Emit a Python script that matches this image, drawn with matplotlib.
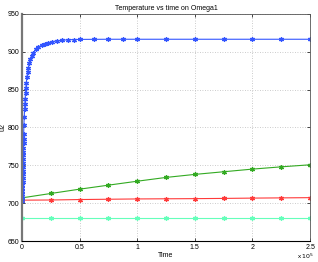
import numpy as np
import matplotlib
matplotlib.use('Agg')
import matplotlib.pyplot as plt

## Data (time in units of 1e5):
t_blue = [0.0, 0.0008, 0.0016, 0.0024, 0.0032, 0.004, 0.0048, 0.0056, 0.0064, 0.0072,
          0.008, 0.0088, 0.0096, 0.0104, 0.0112, 0.012, 0.0128, 0.0136, 0.0144, 0.015,
          0.017, 0.020, 0.023, 0.025, 0.028, 0.031, 0.034, 0.038, 0.043, 0.049,
          0.056, 0.064, 0.074, 0.086, 0.10, 0.12, 0.14, 0.17, 0.20, 0.23,
          0.26, 0.30, 0.35, 0.40, 0.45, 0.50, 0.625, 0.75, 0.875, 1.0,
          1.25, 1.5, 1.75, 2.0, 2.25, 2.5]
u_blue = [703, 706, 709, 712, 716, 720, 724, 728, 733, 738,
          743, 748, 753, 758, 763, 768, 773, 779, 785, 792,
          803, 814, 825, 831, 838, 845, 852, 859, 866, 873,
          879, 885, 890, 895, 899, 903, 906, 908.5, 910.5, 912,
          913.2, 914.3, 915.2, 915.8, 916.1, 916.3, 916.4, 916.5, 916.5, 916.5,
          916.5, 916.5, 916.5, 916.5, 916.5, 916.5]

t_lin = [0.0, 0.25, 0.5, 0.75, 1.0, 1.25, 1.5, 1.75, 2.0, 2.25, 2.5]
u_green = [707, 712.8, 718.5, 723.8, 729, 734, 738, 741.5, 745, 748, 750.7]
u_red = [704, 704.2, 704.8, 705.2, 705.6, 705.8, 706, 706.3, 706.7, 707, 707.3]
u_cyan = [680, 680, 680, 680, 680, 680, 680, 680, 680, 680, 680]

plt.rcParams['font.family'] = ['Liberation Sans', 'DejaVu Sans']

fig = plt.figure(figsize=(3.18, 2.62), dpi=100)
ax = fig.add_axes([0.069, 0.080, 0.906, 0.867])

star = (6, 2, 0)  # matlab-like asterisk
style = dict(lw=0.8, marker=star, ms=3.5, mew=0.9)
ax.plot(t_lin, u_cyan, color='#66ffbb', **style)
ax.plot(t_lin, u_red, color='#ff3a3a', **style)
ax.plot(t_lin, u_green, color='#33aa22', **style)
ax.plot(t_blue, u_blue, color='#3355ff', **style)

ax.set_xlim(0, 2.5)
ax.set_ylim(650, 950)
ax.set_xticks([0, 0.5, 1, 1.5, 2, 2.5])
ax.set_xticklabels(['0', '0.5', '1', '1.5', '2', '2.5'])
ax.set_yticks([650, 700, 750, 800, 850, 900, 950])
ax.grid(True, linestyle=(0, (1, 2)), color='#bbbbbb', linewidth=0.6)
ax.tick_params(direction='in', labelsize=5, length=2.5, width=0.5, top=True, right=True, pad=2)
for s in ['top', 'right']:
    ax.spines[s].set_color('#555555')
    ax.spines[s].set_linewidth(0.6)
ax.spines['left'].set_color('#777777')
ax.spines['left'].set_linewidth(1.6)
ax.spines['bottom'].set_linewidth(0.8)

ax.set_title('Temperature vs time on Omega1', fontsize=5, pad=3)
ax.set_xlabel('Time', fontsize=5, labelpad=1)
ax.set_ylabel('u2', fontsize=5, labelpad=1)
fig.text(0.935, 0.012, r'x $10^5$', fontsize=4.5)

fig.savefig('out.png', dpi=100)
